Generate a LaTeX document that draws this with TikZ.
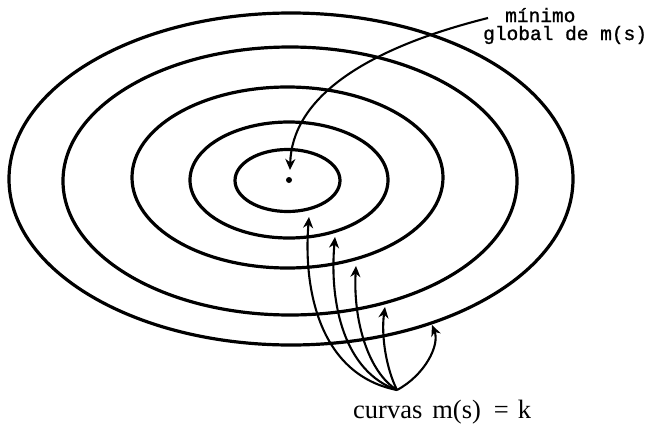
\documentclass[tikz,border=0pt]{standalone}
\usepackage{fontspec}
\setmainfont{Liberation Serif}
\newfontfamily\twfont[FakeBold=1.2]{Liberation Mono}
\usetikzlibrary{arrows.meta}
\begin{document}
\begin{tikzpicture}[x=1pt,y=-1pt,
  contour/.style={line width=3.2pt},
  pointer/.style={line width=2.1pt,-{Stealth[length=11pt,width=10pt,inset=3.5pt]}},
  twlabel/.style={font=\twfont\fontsize{19.5}{20}\selectfont,inner sep=0pt,anchor=base west},
  rmlabel/.style={font=\fontsize{26.5}{30}\selectfont,inner sep=0pt}]
\useasboundingbox (0,0) rectangle (650,423);
% contour ellipses
\draw[contour] (287.5,180.5) ellipse [x radius=52.5, y radius=31];
\draw[contour] (289,180) ellipse [x radius=99, y radius=58];
\draw[contour] (287.5,177.5) ellipse [x radius=155.5, y radius=90.5];
\draw[contour] (290,181) ellipse [x radius=227, y radius=134];
\draw[contour] (291,179) ellipse [x radius=282, y radius=166];
% minimum
\node[circle,fill,inner sep=0pt,minimum size=6pt] (dot) at (289,180) {};
\node[twlabel] (minlabelA) at (505,22) {mínimo};
\node[twlabel] (minlabelB) at (483,40) {global de m(s)};
\coordinate (mstart) at (488,18);
\coordinate (mtip) at (290,170);
\draw[pointer] (mstart) .. controls (360,50) and (292,100) .. (mtip);
% level curves label
\node[rmlabel,anchor=base west] (clabel) at (353,418) {curvas\hspace{10pt}m(s)\hspace{13pt}=\hspace{9pt}k};
\coordinate (src) at (397,390);
\coordinate (t1) at (309,217);
\coordinate (t2) at (335,237);
\coordinate (t3) at (356,266);
\coordinate (t4) at (385,307);
\coordinate (t5) at (432,325);
\draw[pointer] (src) .. controls (320,375) and (303,290) .. (t1);
\draw[pointer] (src) .. controls (345,372) and (329,305) .. (t2);
\draw[pointer] (src) .. controls (368,372) and (353,320) .. (t3);
\draw[pointer] (src) .. controls (386,368) and (381,335) .. (t4);
\draw[pointer] (src) .. controls (425,375) and (440,345) .. (t5);
\end{tikzpicture}
\end{document}
